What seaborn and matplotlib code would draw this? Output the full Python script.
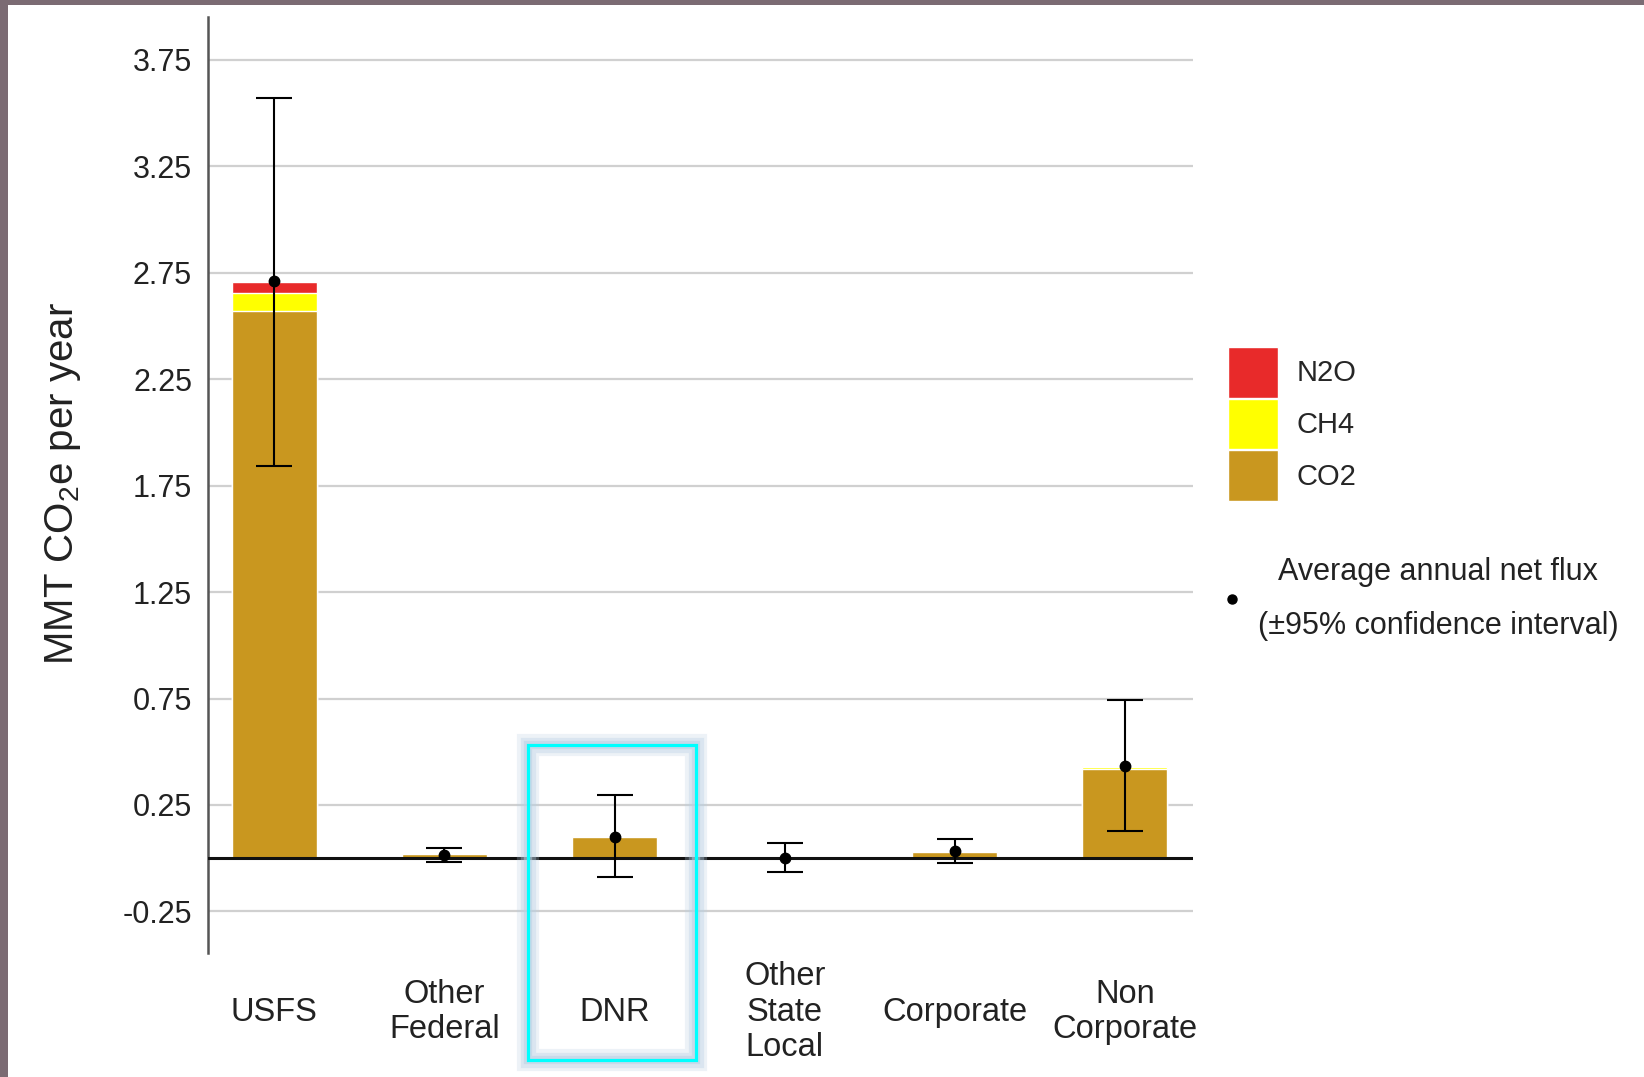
import pandas as pd
import numpy as np
import matplotlib.pyplot as plt
import seaborn as sns
from matplotlib.patches import Patch, Rectangle
from matplotlib.lines import Line2D

sns.set_theme(style="white")
plt.rcParams["font.family"] = ["Liberation Sans", "DejaVu Sans"]
plt.rcParams["mathtext.default"] = "regular"

# values (MMT CO2e per year)
owners = ["USFS", "Other\nFederal", "DNR", "Other\nState\nLocal", "Corporate", "Non\nCorporate"]
co2 = [2.57, 0.02, 0.098, 0.005, 0.03, 0.42]
ch4 = [0.085, 0.0, 0.0, 0.0, 0.0, 0.008]
n2o = [0.05, 0.0, 0.0, 0.0, 0.0, 0.005]
net_flux = [2.71, 0.015, 0.10, 0.0, 0.035, 0.434]
ci_low = [1.84, -0.02, -0.09, -0.065, -0.022, 0.126]
ci_high = [3.57, 0.05, 0.295, 0.07, 0.09, 0.744]
yticks = [-0.25, 0.25, 0.75, 1.25, 1.75, 2.25, 2.75, 3.25, 3.75]

col_co2 = "#C9971F"
col_ch4 = "#FFFF00"
col_n2o = "#E82A2A"

df = pd.DataFrame({"owner": owners, "co2": co2, "ch4": ch4, "n2o": n2o})
df["co2_ch4"] = df["co2"] + df["ch4"]
df["total"] = df["co2_ch4"] + df["n2o"]

W, H = 1644, 1077
fig = plt.figure(figsize=(W / 100, H / 100), dpi=100)
ax = fig.add_axes([208 / W, 1 - 953 / H, (1193 - 208) / W, (953 - 17) / H])

# stacked bars: draw cumulative totals from the top down
sns.barplot(data=df, x="owner", y="total", color=col_n2o, saturation=1, width=0.5, ax=ax, zorder=2)
sns.barplot(data=df, x="owner", y="co2_ch4", color=col_ch4, saturation=1, width=0.5, ax=ax, zorder=2)
sns.barplot(data=df, x="owner", y="co2", color=col_co2, saturation=1, width=0.5, ax=ax, zorder=2)

x = np.arange(len(owners))
err = [np.array(net_flux) - np.array(ci_low), np.array(ci_high) - np.array(net_flux)]
ax.errorbar(x, net_flux, yerr=err, fmt="o", color="black", ms=7.5, elinewidth=1.5,
            capsize=13.3, capthick=1.5, zorder=5)

ax.axhline(0, color="#111111", lw=2.2, zorder=4)
ax.set_yticks(yticks)
ax.set_yticklabels([f"{v:.2f}" for v in yticks])
ax.yaxis.grid(True, color="#d0d0d0", lw=1.6, zorder=0)
ax.set_axisbelow(True)
ax.set_ylim(-0.445, 3.95)
ax.set_xlim(-0.39, 5.40)
ax.set_xlabel("")
ax.set_ylabel("")

for s in ["top", "right", "bottom"]:
    ax.spines[s].set_visible(False)
ax.spines["left"].set_color("#555555")
ax.spines["left"].set_linewidth(1.8)
ax.tick_params(axis="y", length=0, pad=11.5, labelsize=22, labelcolor="#222222")
ax.tick_params(axis="x", length=0, pad=42.5, labelsize=23.5, labelcolor="#222222")
for lab in ax.get_xticklabels():
    lab.set_verticalalignment("center")
    lab.set_linespacing(1.2)

fig.text(63 / W, 1 - 484 / H, "MMT CO$_2$e per year", rotation=90, ha="center", va="center",
         fontsize=29, color="#222222")

# legend for the gases
handles = [Patch(facecolor=col_n2o, label="N2O"),
           Patch(facecolor=col_ch4, label="CH4"),
           Patch(facecolor=col_co2, label="CO2")]
ax.legend(handles=handles, loc="upper left", bbox_to_anchor=(1228 / W, 1 - 347 / H),
          bbox_transform=fig.transFigure, frameon=False, fontsize=21, handlelength=1.7,
          handleheight=2.3, labelspacing=0.03, handletextpad=0.65, borderpad=0,
          borderaxespad=0)

fig.add_artist(Line2D([1232 / W], [1 - 599 / H], marker="o", color="black", ms=6.5,
                      transform=fig.transFigure))
fig.text(1438 / W, 1 - 599 / H, "Average annual net flux\n(\u00b195% confidence interval)",
         ha="center", va="center", multialignment="center", linespacing=2.05,
         fontsize=22, color="#222222")

# highlight box around DNR with a soft glow
bx0, bx1, by0, by1 = 528, 696, 745, 1060
for lw, a in [(16, 0.25), (11, 0.35), (6, 0.5)]:
    fig.add_artist(Rectangle((bx0 / W, 1 - by1 / H), (bx1 - bx0) / W, (by1 - by0) / H,
                             transform=fig.transFigure, fill=False, ec="#b8cfe3",
                             lw=lw, alpha=a, zorder=10))
fig.add_artist(Rectangle((bx0 / W, 1 - by1 / H), (bx1 - bx0) / W, (by1 - by0) / H,
                         transform=fig.transFigure, fill=False, ec="#00FFFF", lw=2.3, zorder=11))

# frame edges of the screenshot
fig.add_artist(Rectangle((0, 1 - 5 / H), 1, 5 / H, transform=fig.transFigure,
                         fc="#7b6b73", ec="none", zorder=12))
fig.add_artist(Rectangle((0, 0), 8 / W, 1, transform=fig.transFigure,
                         fc="#7b6b73", ec="none", zorder=12))

fig.savefig("out.png", dpi=100)
